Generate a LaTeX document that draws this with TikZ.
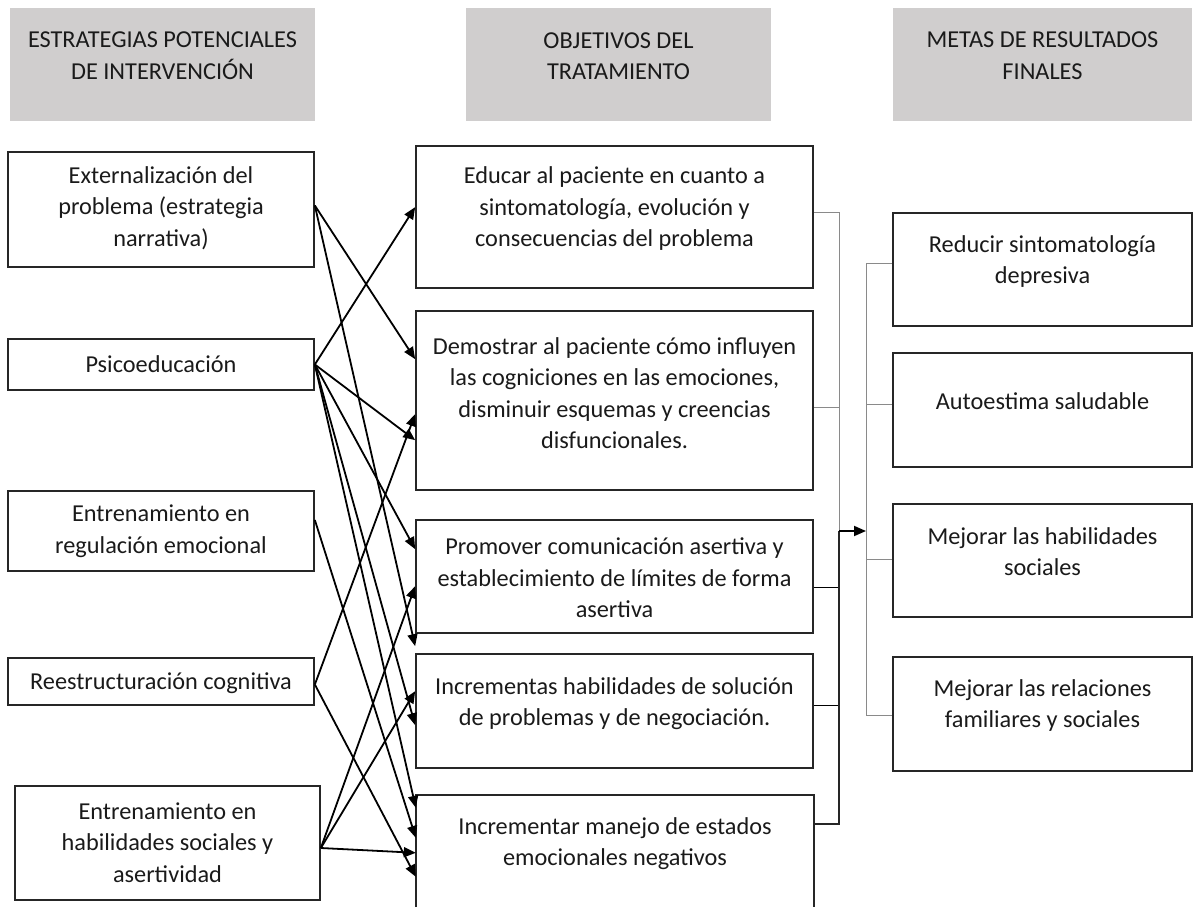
\documentclass[tikz,border=0pt]{standalone}
\usepackage{fontspec}
\setmainfont{Carlito}
\usetikzlibrary{arrows.meta,calc}
\definecolor{hdr}{HTML}{D0CECE}
\definecolor{ink}{HTML}{1A1A1A}
\definecolor{brd}{HTML}{262626}
\definecolor{thin}{HTML}{8A8A8A}
\begin{document}
\begin{tikzpicture}[x=1pt,y=-1pt,
  hdrbox/.style={fill=hdr,draw=none,inner sep=0pt},
  box/.style={draw=brd,line width=1.7pt,inner sep=0pt},
  boxline/.style={draw=brd,line width=1.7pt},
  txt/.style={align=center,inner sep=0pt,text=ink,font=\fontsize{24.3}{31.5}\selectfont},
  arr/.style={line width=1.8pt,draw=black,-{Triangle[length=12pt,width=10pt]}},
  brk/.style={line width=1pt,draw=thin},
  brkb/.style={line width=1pt,draw=black},
  brkk/.style={line width=1.7pt,draw=brd}]
\useasboundingbox (0,0) rectangle (1193,907);

% headers
\node[hdrbox,minimum width=305pt,minimum height=113pt] (h1) at (162.5,64.5) {};
\node[txt] (th1) at (162.5,55.5) {ESTRATEGIAS POTENCIALES\\DE INTERVENCIÓN};
\node[hdrbox,minimum width=305pt,minimum height=113pt] (h2) at (618.5,64.5) {};
\node[txt] (th2) at (618.5,56) {OBJETIVOS DEL\\TRATAMIENTO};
\node[hdrbox,minimum width=299pt,minimum height=113pt] (h3) at (1042.5,64.5) {};
\node[txt] (th3) at (1042.5,55.5) {METAS DE RESULTADOS\\FINALES};

% left column
\node[box,minimum width=306pt,minimum height=115pt] (l1) at (161,209.5) {};
\node[txt] (tl1) at (161,208) {Externalización del\\problema (estrategia\\narrativa)};
\node[box,minimum width=306pt,minimum height=51pt] (l2) at (161,364.5) {};
\node[txt] (tl2) at (161,364.5) {Psicoeducación};
\node[box,minimum width=306pt,minimum height=80pt] (l3) at (161,531) {};
\node[txt] (tl3) at (161,531) {Entrenamiento en\\regulación emocional};
\node[box,minimum width=306pt,minimum height=47pt] (l4) at (161,681.5) {};
\node[txt] (tl4) at (161,683) {Reestructuración cognitiva};
\node[box,minimum width=305pt,minimum height=114pt] (l5) at (167.5,843) {};
\node[txt] (tl5) at (167.5,842.5) {Entrenamiento en\\habilidades sociales y\\asertividad};

% middle column
\node[box,minimum width=397pt,minimum height=142pt] (m1) at (614.5,217) {};
\node[txt] (tm1) at (614.5,209) {Educar al paciente en cuanto a\\sintomatología, evolución y\\consecuencias del problema};
\node[box,minimum width=397pt,minimum height=179pt] (m2) at (614.5,400.5) {};
\node[txt] (tm2) at (614.5,393) {Demostrar al paciente cómo influyen\\las cogniciones en las emociones,\\disminuir esquemas y creencias\\disfuncionales.};
\node[box,minimum width=397pt,minimum height=113pt] (m3) at (614.5,576.5) {};
\node[txt] (tm3) at (614.5,578) {Promover comunicación asertiva y\\establecimiento de límites de forma\\asertiva};
\node[box,minimum width=397pt,minimum height=114pt] (m4) at (614.5,711) {};
\node[txt] (tm4) at (614.5,703.5) {Incrementas habilidades de solución\\de problemas y de negociación.};
\node[inner sep=0pt,minimum width=398pt,minimum height=112pt] (m5) at (615,851) {};
\draw[boxline] (m5.south west) -- (m5.north west) -- (m5.north east) -- (m5.south east);
\node[txt] (tm5) at (615,843.5) {Incrementar manejo de estados\\emocionales negativos};

% right column
\node[box,minimum width=299pt,minimum height=113pt] (r1) at (1042.5,269.5) {};
\node[txt] (tr1) at (1042.5,261.5) {Reducir sintomatología\\depresiva};
\node[box,minimum width=299pt,minimum height=114pt] (r2) at (1042.5,410) {};
\node[txt] (tr2) at (1042.5,401) {Autoestima saludable};
\node[box,minimum width=299pt,minimum height=113pt] (r3) at (1042.5,560.5) {};
\node[txt] (tr3) at (1042.5,551.5) {Mejorar las habilidades\\sociales};
\node[box,minimum width=299pt,minimum height=114pt] (r4) at (1042.5,714) {};
\node[txt] (tr4) at (1042.5,705.5) {Mejorar las relaciones\\familiares y sociales};

% arrows left -> middle
\draw[arr] ([yshift=4pt]l1.east) -- ([yshift=-49pt]m2.north west);
\draw[arr] ([yshift=4pt]l1.east) -- ([yshift=7pt]m4.north west);
\draw[arr] (l2.east) -- ([yshift=-62pt]m1.north west);
\draw[arr] (l2.east) -- ([yshift=-130pt]m2.north west);
\draw[arr] (l2.east) -- ([yshift=-30pt]m3.north west);
\draw[arr] (l2.east) -- ([yshift=-72pt]m4.north west);
\draw[arr] (l2.east) -- ([yshift=-13pt]m5.north west);
\draw[arr] ([yshift=11pt]l3.east) -- ([yshift=-43pt]m5.north west);
\draw[arr] ([yshift=-3pt]l4.east) -- ([yshift=-104pt]m2.north west);
\draw[arr] ([yshift=-3pt]l4.east) -- ([yshift=-82pt]m5.north west);
\draw[arr] ([yshift=-5pt]l5.east) -- ([yshift=-67pt]m3.north west);
\draw[arr] ([yshift=-5pt]l5.east) -- ([yshift=-38pt]m4.north west);
\draw[arr] ([yshift=-5pt]l5.east) -- ([yshift=-58pt]m5.north west);

% bracket middle -> right
\coordinate (bt) at (839,212);
\coordinate (bm) at (839,531);
\coordinate (bb) at (839,824);
\coordinate (rt) at (866,263);
\coordinate (ra) at (866,531);
\coordinate (rb) at (866,715);
\draw[brk] ([yshift=5pt]m1.east) -- (bt) -- (bm);
\draw[brk] ([yshift=-6.5pt]m2.east) -- ([yshift=-6.5pt]m2.east -| bt);
\draw[brkb] ([yshift=-10.5pt]m3.east) -- ([yshift=-10.5pt]m3.east -| bt);
\draw[brkb] ([yshift=6pt]m4.east) -- ([yshift=6pt]m4.east -| bt);
\draw[brkk] ([yshift=27pt]m5.east) -- (bb) -- (bm);
\draw[arr] (bm) -- (ra);
\draw[brk] (rt) -- (rb);
\draw[brk] (rt) -- ([yshift=6.5pt]r1.west);
\draw[brk] ([yshift=6pt]r2.west -| rt) -- ([yshift=6pt]r2.west);
\draw[brk] ([yshift=1.5pt]r3.west -| rt) -- ([yshift=1.5pt]r3.west);
\draw[brk] (rb) -- (r4.west |- rb);
\end{tikzpicture}
\end{document}
